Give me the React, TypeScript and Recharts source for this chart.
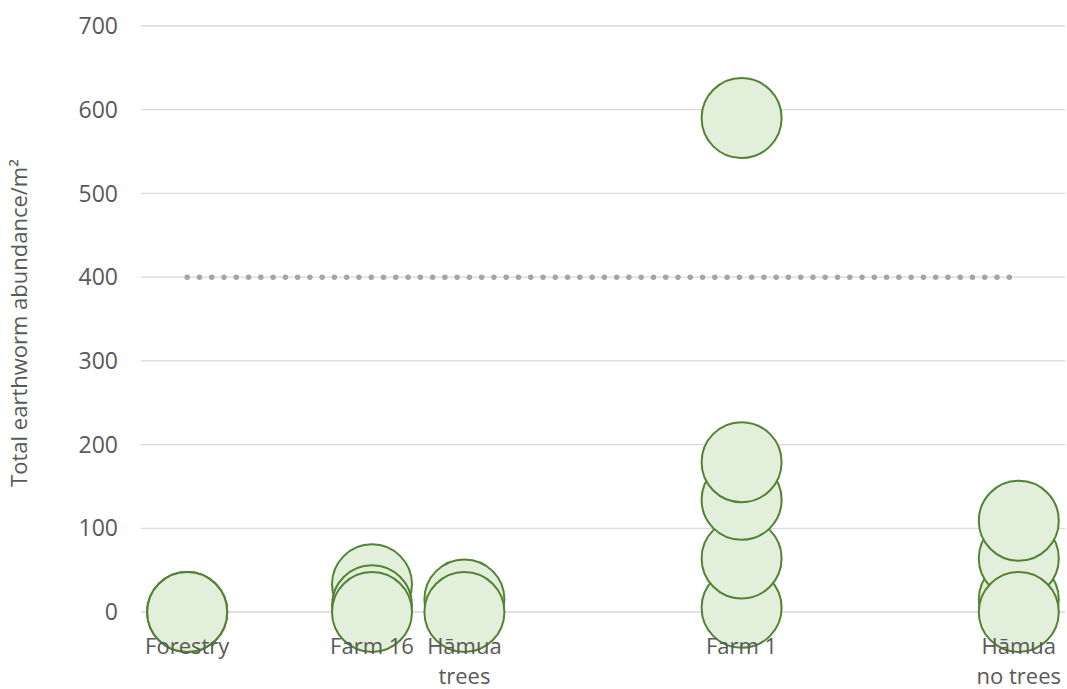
import React from "react";
import {
  ScatterChart,
  Scatter,
  XAxis,
  YAxis,
  CartesianGrid,
  ReferenceLine,
} from "recharts";

// Sites (categories) and their x positions
const siteLabels = ["Forestry", "Farm 16", "Hāmua\ntrees", "Farm 1", "Hāmua\nno trees"];
const sitePositions = [1, 3, 4, 7, 10];

// Earthworm abundance per sample (null = no sample)
const sample1 = [0, 33, 15, 5, 15];
const sample2 = [0, 8, null, 64, 64];
const sample3 = [0, 0, 0, 134, 0];
const sample4 = [null, null, null, 179, 109];
const sample5 = [null, null, null, 590, null];

const thresholdValue = 400;
const yTicks = [0, 100, 200, 300, 400, 500, 600, 700];

const toPoints = (vals: (number | null)[]) =>
  vals
    .map((v, i) => (v === null ? null : { x: sitePositions[i], y: v }))
    .filter((p) => p !== null) as { x: number; y: number }[];

const seriesList = [sample1, sample2, sample3, sample4, sample5].map(toPoints);

const FONT = "'Open Sans', 'Liberation Sans', sans-serif";
const TEXT = "#595959";

const Bubble = (props: any) => {
  const { cx, cy } = props;
  if (cx == null || cy == null) return null;
  return <circle cx={cx} cy={cy} r={40} fill="#e2efda" stroke="#548235" strokeWidth={2} />;
};

const XTick = (props: any) => {
  const { x, y, payload } = props;
  const idx = sitePositions.indexOf(payload.value);
  const label = idx >= 0 ? siteLabels[idx] : "";
  const lines = label.split("\n");
  return (
    <g>
      {lines.map((l, i) => (
        <text
          key={i}
          x={x}
          y={y + 42 + i * 30}
          textAnchor="middle"
          fill={TEXT}
          fontSize={22}
          fontFamily={FONT}
        >
          {l}
        </text>
      ))}
    </g>
  );
};

export default function App() {
  return (
    <div style={{ position: "absolute", left: 0, top: 0, background: "#fff" }}>
      <ScatterChart
        width={1067}
        height={689}
        margin={{ top: 26, right: 2, bottom: 0, left: 0 }}
      >
        <CartesianGrid vertical={false} stroke="#d9d9d9" strokeWidth={1.3} />
        <XAxis
          type="number"
          dataKey="x"
          domain={[0.5, 10.5]}
          ticks={sitePositions}
          interval={0}
          axisLine={false}
          tickLine={false}
          tickSize={0}
          tickMargin={0}
          height={77}
          tick={<XTick />}
          allowDataOverflow
        />
        <YAxis
          type="number"
          dataKey="y"
          domain={[0, 700]}
          ticks={yTicks}
          interval={0}
          axisLine={false}
          tickLine={false}
          tickSize={0}
          tickMargin={23}
          width={141}
          tick={{ fill: TEXT, fontSize: 23, fontFamily: FONT }}
          label={{
            value: "Total earthworm abundance/m²",
            angle: -90,
            position: "insideLeft",
            dx: 14,
            dy: 4,
            style: { fill: TEXT, fontSize: 22, fontFamily: FONT, textAnchor: "middle" },
          }}
        />
        <ReferenceLine
          segment={[
            { x: sitePositions[0], y: thresholdValue },
            { x: sitePositions[sitePositions.length - 1], y: thresholdValue },
          ]}
          stroke="#a5a5a5"
          strokeWidth={5.5}
          strokeDasharray="0 12.27"
          strokeLinecap="round"
          ifOverflow="extendDomain"
        />
        {seriesList.map((pts, i) => (
          <Scatter
            key={i}
            data={pts}
            shape={<Bubble />}
            isAnimationActive={false}
          />
        ))}
      </ScatterChart>
    </div>
  );
}
